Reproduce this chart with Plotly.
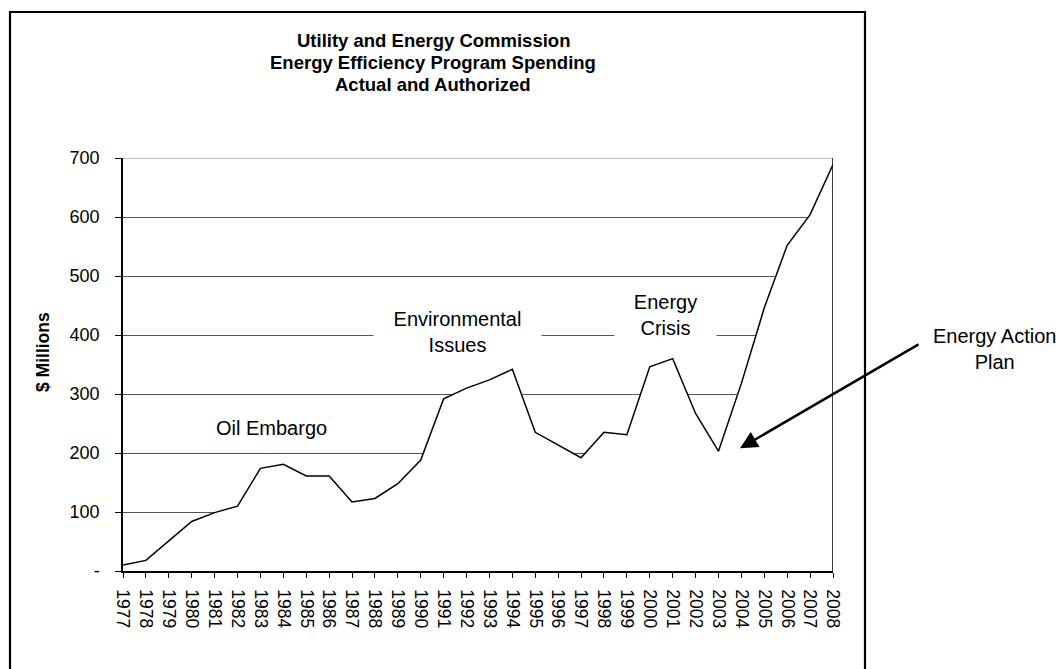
import plotly.graph_objects as go

# ---- data ----
years = list(range(1977, 2009))
spending = [10, 18, 51, 84, 99, 110, 174, 181, 161, 161, 117, 123, 148, 188,
            292, 310, 324, 342, 235, 214, 192, 235, 231, 346, 360, 267, 203,
            318, 446, 552, 604, 689]
y_ticks = [0, 100, 200, 300, 400, 500, 600, 700]
y_tick_labels = ["-", "100", "200", "300", "400", "500", "600", "700"]
title_lines = ["Utility and Energy Commission",
               "Energy Efficiency Program Spending",
               "Actual and Authorized"]

FONT = "Liberation Sans, Arial, sans-serif"

fig = go.Figure()
fig.add_trace(go.Scatter(
    x=years, y=spending, mode="lines",
    line=dict(color="black", width=1.5),
    fill="tozeroy", fillcolor="white",
    hoverinfo="skip", showlegend=False,
))

# plot area pixel geometry: x 123..833, y 158..571
L, R, T, B = 123, 227, 158, 98
W, H = 1060, 669
pw, ph = W - L - R, H - T - B

def px(xp):
    return (xp - L) / pw

def py(yp):
    return (H - B - yp) / ph

fig.update_layout(
    width=W, height=H, autosize=False,
    margin=dict(l=L, r=R, t=T, b=B, pad=0),
    paper_bgcolor="white", plot_bgcolor="white",
    font=dict(family=FONT, color="black", size=18),
    showlegend=False,
)

fig.update_xaxes(
    range=[1977, 2008], tickmode="array", tickvals=years,
    ticktext=[str(y) for y in years], tickangle=90,
    showgrid=False, zeroline=False,
    showline=True, linecolor="black", linewidth=1.5,
    ticks="outside", ticklen=5, tickcolor="black", tickwidth=1,
    tickfont=dict(size=17.5, family=FONT), ticklabelstandoff=8,
)
fig.update_yaxes(
    range=[0, 700], tickmode="array", tickvals=y_ticks, ticktext=y_tick_labels,
    showgrid=True, gridcolor="#555555", gridwidth=1, zeroline=False,
    showline=True, linecolor="black", linewidth=1.5,
    ticks="outside", ticklen=6, tickcolor="black", tickwidth=1,
    tickfont=dict(size=18, family=FONT), ticklabelstandoff=12,
)

# top gridline at the edge of the value range
fig.add_shape(type="line", xref="x", yref="y", x0=1977, x1=2008, y0=700, y1=700,
              line=dict(color="#888888", width=1), layer="below")
# right border of plot area
fig.add_shape(type="line", xref="x", yref="y", x0=2008, x1=2008, y0=0, y1=700,
              line=dict(color="black", width=1.5), layer="above")
# outer chart border (open at the bottom edge of the picture)
fig.add_shape(type="rect", xref="paper", yref="paper",
              x0=px(10), x1=px(865), y0=py(675), y1=py(12),
              line=dict(color="black", width=2.2), fillcolor="rgba(0,0,0,0)",
              layer="above")

# title lines
for line_text, yc in zip(title_lines, [40.5, 62.5, 84.5]):
    fig.add_annotation(text="<b>%s</b>" % line_text, xref="paper", yref="paper",
                       x=px(433), y=py(yc), xanchor="center", yanchor="middle",
                       showarrow=False, font=dict(size=18.5, family=FONT))

# y-axis title
fig.add_annotation(text="<b>$ Millions</b>", xref="paper", yref="paper",
                   x=px(43), y=py(352), textangle=-90, xanchor="center",
                   yanchor="middle", showarrow=False,
                   font=dict(size=17.5, family=FONT))

# event labels
fig.add_annotation(text="Oil Embargo", x=1983.47, y=242, showarrow=False,
                   font=dict(size=20, family=FONT))
fig.add_annotation(text="Environmental<br>Issues", x=1991.62, y=404.5,
                   showarrow=False, bgcolor="white", width=167, borderpad=0,
                   align="center", font=dict(size=20, family=FONT))
fig.add_annotation(text="Energy<br>Crisis", x=2000.7, y=434,
                   showarrow=False, bgcolor="white", width=101, borderpad=0,
                   align="center", font=dict(size=20, family=FONT))
fig.add_annotation(text="Energy Action<br>Plan", xref="paper", yref="paper",
                   x=px(995), y=py(348.5), xanchor="center", yanchor="middle",
                   showarrow=False, align="center",
                   font=dict(size=20, family=FONT))

# arrow
fig.add_annotation(text="", x=2003.94, y=208, ax=2011.8, ay=385.5,
                   xref="x", yref="y", axref="x", ayref="y",
                   showarrow=True, arrowhead=2, arrowsize=1.4, arrowwidth=2.5,
                   arrowcolor="black", standoff=0, startstandoff=0)

fig.write_html("out.html")
